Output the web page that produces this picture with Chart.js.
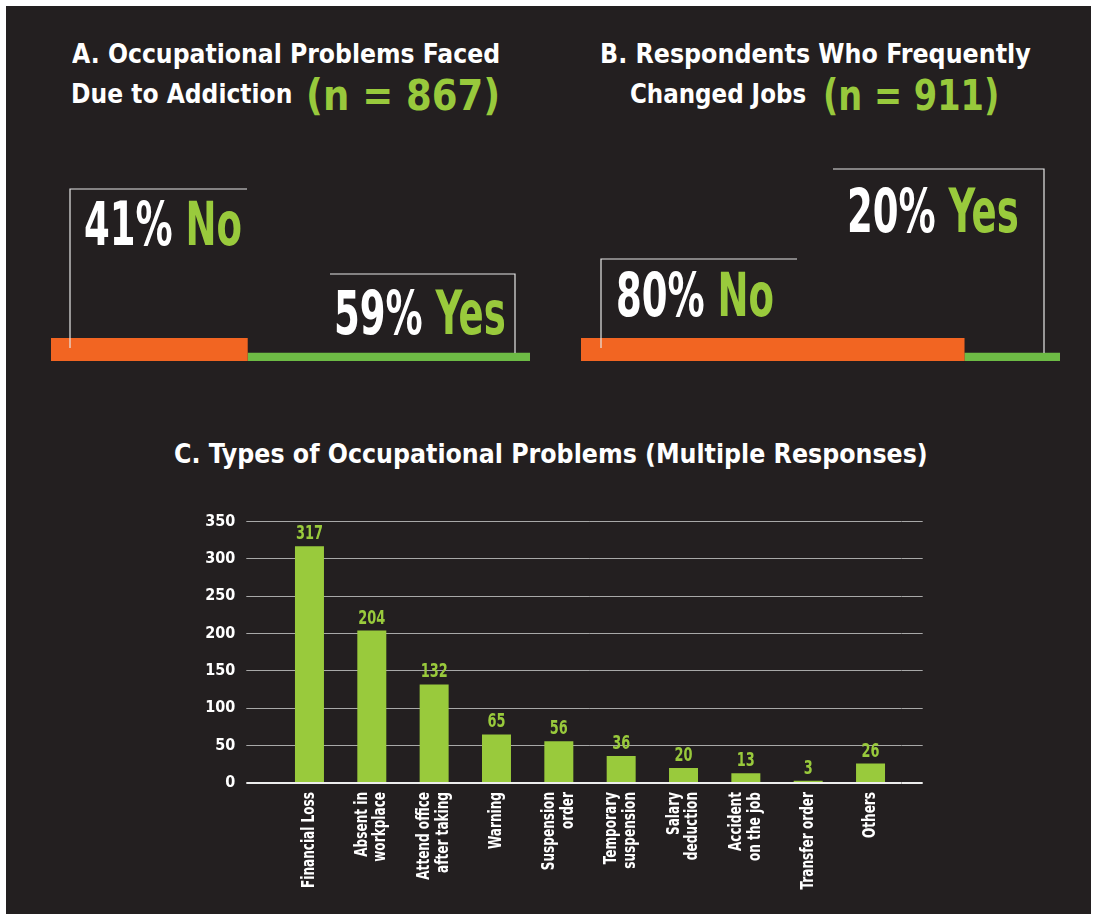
<!DOCTYPE html>
<html>
<head>
<meta charset="utf-8">
<script src="https://cdn.jsdelivr.net/npm/chart.js@4.4.1/dist/chart.umd.min.js"></script>
<style>
  html, body { margin: 0; padding: 0; background: #fff; }
  #panel { position: absolute; left: 6px; top: 6px; width: 1085px; height: 908px; background: #231f20; }
  .t { position: absolute; color: #fff; font-family: "DejaVu Sans Condensed", "DejaVu Sans", sans-serif;
       font-weight: bold; white-space: nowrap; line-height: 1; transform-origin: 0 0; }
  .t.n { color: #98c93c; }
  canvas { position: absolute; }
</style>
</head>
<body>
<div id="panel"></div>

<div class="t" data-x="72" data-base="63" data-w="428" style="font-size:27px">A. Occupational Problems Faced</div>
<div class="t" data-x="71" data-base="103" data-w="221" style="font-size:27px">Due to Addiction</div>
<div class="t n" data-x="306" data-base="110" data-w="194" style="font-size:42px">(n = 867)</div>
<div class="t" data-x="600" data-base="63" data-w="431" style="font-size:27px">B. Respondents Who Frequently</div>
<div class="t" data-x="630" data-base="103" data-w="176" style="font-size:27px">Changed Jobs</div>
<div class="t n" data-x="823" data-base="110" data-w="176" style="font-size:42px">(n = 911)</div>
<div class="t" data-x="174" data-base="463" data-w="754" style="font-size:27px">C. Types of Occupational Problems (Multiple Responses)</div>

<canvas id="occupation" width="479" height="211" style="left:51px;top:150px"></canvas>
<canvas id="jobChange" width="479" height="211" style="left:581px;top:150px"></canvas>
<canvas id="problems" width="800" height="420" style="left:150px;top:490px"></canvas>

<script>
const ORANGE = '#f26522';
const GREEN_BAND = '#6dbb45';
const GREEN = '#99ca3c';
const WHITE = '#ffffff';
const NARROW = '"Liberation Sans Narrow", "DejaVu Sans Condensed", "Arial Narrow", sans-serif';
const BIG_FONT = 'bold 60px ' + NARROW;
const AXIS_FONT = 'bold 17px ' + NARROW;
const VALUE_FONT = 'bold 20px ' + NARROW;

// A. problems faced due to addiction (%)
const occupationAnswers = ['No', 'Yes'];
const occupationShares = [41, 59];

// B. frequently changed jobs (%)
const jobChangeAnswers = ['No', 'Yes'];
const jobChangeShares = [80, 20];

// C. types of problems (counts)
const problemTypes = [
  ['Financial Loss'],
  ['Absent in', 'workplace'],
  ['Attend office', 'after taking'],
  ['Warning'],
  ['Suspension', 'order'],
  ['Temporary', 'suspension'],
  ['Salary', 'deduction'],
  ['Accident', 'on the job'],
  ['Transfer order'],
  ['Others'],
];
const problemCounts = [317, 204, 132, 65, 56, 36, 20, 13, 3, 26];
const countTicks = [0, 50, 100, 150, 200, 250, 300, 350];

// titles: put each on its baseline and squeeze to the width of the original
document.querySelectorAll('.t').forEach((el) => {
  const mark = document.createElement('i');
  mark.style.cssText = 'display:inline-block;width:0;height:0;vertical-align:baseline';
  el.appendChild(mark);
  el.style.left = el.dataset.x + 'px';
  el.style.top = (el.dataset.base - mark.offsetTop) + 'px';
  el.style.transform = 'scaleX(' + (el.dataset.w / el.offsetWidth) + ')';
});

// the original uses a very narrow face; squeeze the installed one to match
const measureCtx = document.createElement('canvas').getContext('2d');
function squeezeFor(font, text, width) {
  measureCtx.font = font;
  return width / measureCtx.measureText(text).width;
}
const BIG_SQUEEZE = squeezeFor(BIG_FONT, occupationShares[0] + '% ' + occupationAnswers[0], 158);
const AXIS_SQUEEZE = squeezeFor(AXIS_FONT, problemTypes[0][0], 96);
const VALUE_SQUEEZE = squeezeFor(VALUE_FONT, String(problemCounts[0]), 27);

const calloutPlugin = {
  id: 'callouts',
  afterDatasetsDraw(chart, args, opts) {
    const { ctx, chartArea } = chart;
    chart.data.datasets.forEach((ds, i) => {
      const c = opts.items[i];
      const bar = chart.getDatasetMeta(i).data[0];
      const left = Math.min(bar.base, bar.x);
      const right = Math.max(bar.base, bar.x);
      const vx = c.anchor === 'start' ? left + c.inset : right - c.inset;
      const bottom = chartArea.bottom - c.drop;

      ctx.save();
      ctx.strokeStyle = '#e6e6e6';
      ctx.lineWidth = 1.2;
      ctx.beginPath();
      if (c.anchor === 'start') {
        ctx.moveTo(vx, bottom);
        ctx.lineTo(vx, c.lineY);
        ctx.lineTo(vx + c.len, c.lineY);
      } else {
        ctx.moveTo(vx - c.len, c.lineY);
        ctx.lineTo(vx, c.lineY);
        ctx.lineTo(vx, bottom);
      }
      ctx.stroke();

      const pct = ds.data[0] + '% ';
      ctx.translate(vx + c.tx, c.lineY + c.ty);
      ctx.scale(BIG_SQUEEZE, 1);
      ctx.font = BIG_FONT;
      ctx.textAlign = 'left';
      ctx.textBaseline = 'alphabetic';
      ctx.fillStyle = WHITE;
      ctx.fillText(pct, 0, 0);
      ctx.fillStyle = GREEN;
      ctx.fillText(ds.label, ctx.measureText(pct).width, 0);
      ctx.restore();
    });
  },
};

function splitChart(id, answers, shares, items) {
  return new Chart(document.getElementById(id), {
    type: 'bar',
    data: {
      labels: ['share'],
      datasets: [
        { label: answers[0], data: [shares[0]], backgroundColor: ORANGE, borderWidth: 0 },
        {
          label: answers[1],
          data: [shares[1]],
          backgroundColor: 'rgba(0,0,0,0)',
          borderColor: GREEN_BAND,
          borderWidth: { top: 0, right: 0, bottom: 8, left: 0 },
          borderSkipped: false,
        },
      ],
    },
    options: {
      indexAxis: 'y',
      responsive: false,
      animation: false,
      events: [],
      layout: { padding: { top: 188 } },
      datasets: { bar: { barPercentage: 1, categoryPercentage: 1 } },
      scales: {
        x: { stacked: true, display: false, min: 0, max: 100 },
        y: { stacked: true, display: false },
      },
      plugins: {
        legend: { display: false },
        tooltip: { enabled: false },
        callouts: { items },
      },
    },
    plugins: [calloutPlugin],
  });
}

splitChart('occupation', occupationAnswers, occupationShares, [
  { anchor: 'start', inset: 19, drop: 13, lineY: 39, len: 177, tx: 14, ty: 56 },
  { anchor: 'end', inset: 15, drop: 8, lineY: 124, len: 185, tx: -181, ty: 60 },
]);
splitChart('jobChange', jobChangeAnswers, jobChangeShares, [
  { anchor: 'start', inset: 20, drop: 13, lineY: 109, len: 196, tx: 15, ty: 57 },
  { anchor: 'end', inset: 16, drop: 8, lineY: 19, len: 211, tx: -197, ty: 63 },
]);

const problemLabelPlugin = {
  id: 'problemLabels',
  afterDatasetsDraw(chart) {
    const { ctx } = chart;
    const values = chart.data.datasets[0].data;
    ctx.save();
    ctx.fillStyle = GREEN;
    ctx.font = VALUE_FONT;
    ctx.textAlign = 'center';
    ctx.textBaseline = 'alphabetic';
    chart.getDatasetMeta(0).data.forEach((bar, i) => {
      ctx.save();
      ctx.translate(bar.x, bar.y - 7);
      ctx.scale(VALUE_SQUEEZE, 1);
      ctx.fillText(String(values[i]), 0, 0);
      ctx.restore();
    });
    ctx.restore();
  },
  afterDraw(chart) {
    const { ctx, chartArea } = chart;
    const xScale = chart.scales.x;
    ctx.save();
    ctx.fillStyle = WHITE;
    ctx.font = AXIS_FONT;
    chart.data.labels.forEach((label, i) => {
      const lines = Array.isArray(label) ? label : [label];
      ctx.save();
      ctx.translate(xScale.getPixelForTick(i), chartArea.bottom + 9);
      ctx.rotate(-Math.PI / 2);
      ctx.scale(AXIS_SQUEEZE, 1);
      ctx.textAlign = 'right';
      ctx.textBaseline = 'middle';
      lines.forEach((line, j) => {
        ctx.fillText(line, 0, (j - (lines.length - 1) / 2) * 18.5);
      });
      ctx.restore();
    });
    ctx.restore();
  },
};

const gridColor = (c) => (c.tick && c.tick.value === 0 ? '#ececec' : '#a8a8a8');
const gridWidth = (c) => (c.tick && c.tick.value === 0 ? 2 : 1);
const countMin = countTicks[0];
const countMax = countTicks[countTicks.length - 1];
const countStep = countTicks[1] - countTicks[0];

new Chart(document.getElementById('problems'), {
  type: 'bar',
  data: {
    labels: problemTypes,
    datasets: [{
      data: problemCounts,
      backgroundColor: GREEN,
      barPercentage: 0.465,
      categoryPercentage: 1,
    }],
  },
  options: {
    responsive: false,
    animation: false,
    events: [],
    layout: { padding: { top: 31.5, right: 27.3, left: 0, bottom: 0 } },
    scales: {
      x: {
        grid: { display: false },
        border: { display: false },
        ticks: { display: false },
        afterFit: (s) => { s.height = 127; },
      },
      y: {
        min: countMin,
        max: countMax,
        ticks: {
          stepSize: countStep,
          color: WHITE,
          padding: 11,
          font: { family: NARROW, size: 16, weight: 'bold' },
        },
        grid: { color: gridColor, lineWidth: gridWidth, tickLength: 32 },
        border: { display: false },
        afterFit: (s) => { s.width = 128.3; },
      },
      yRight: {
        position: 'right',
        min: countMin,
        max: countMax,
        ticks: { display: false, stepSize: countStep },
        grid: { drawOnChartArea: false, color: gridColor, lineWidth: gridWidth, tickLength: 21 },
        border: { display: false },
        afterFit: (s) => { s.width = 21; },
      },
    },
    plugins: { legend: { display: false }, tooltip: { enabled: false } },
  },
  plugins: [problemLabelPlugin],
});
</script>
</body>
</html>
